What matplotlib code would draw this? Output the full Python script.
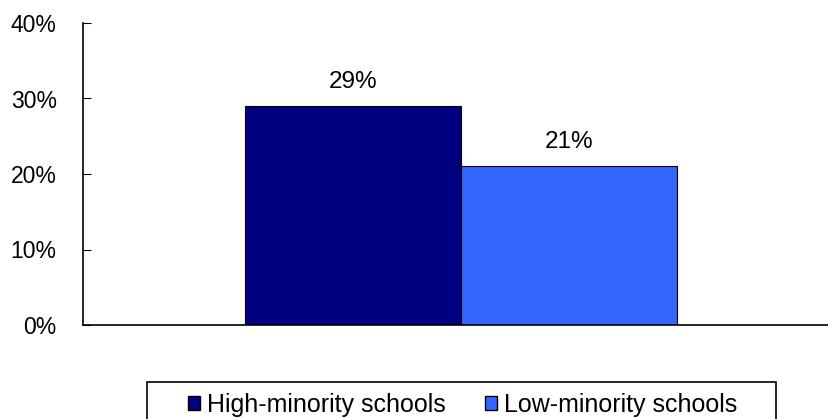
import matplotlib
matplotlib.use('Agg')
import matplotlib.pyplot as plt
from matplotlib.patches import Rectangle
from matplotlib.ticker import PercentFormatter

plt.rcParams['font.family'] = ['Liberation Sans', 'DejaVu Sans']

series = ['High-minority schools', 'Low-minority schools']
values = [29, 21]
colors = ['#000080', '#3366FF']
labels = ['29%', '21%']

fig = plt.figure(figsize=(8.29, 4.19), dpi=100)
ax = fig.add_axes([83 / 829, 94 / 419, 746 / 829, 302 / 419])

w = 216 / 746
offsets = [-w / 2, w / 2]
for s, v, c, lab, off in zip(series, values, colors, labels, offsets):
    ax.bar(off, v, width=w, color=c, edgecolor='black', linewidth=0.8, label=s)
    ax.text(off, v + 2.4, lab, ha='center', va='baseline', fontsize=17.5)

ax.set_xlim(-378 / 746, 368 / 746)
ax.set_ylim(0, 40)
ax.set_yticks([0, 10, 20, 30, 40])
ax.yaxis.set_major_formatter(PercentFormatter(decimals=0))
ax.tick_params(axis='y', direction='in', length=6, labelsize=16.5, pad=19)
ax.set_xticks([])
for sp in ['top', 'right']:
    ax.spines[sp].set_visible(False)
for sp in ['left', 'bottom']:
    ax.spines[sp].set_linewidth(1.2)

# legend frame is wider than the entries, draw it separately
fig.add_artist(Rectangle((147 / 829, -0.1), 629 / 829, 0.1 + 37 / 419,
                         transform=fig.transFigure, fill=False,
                         edgecolor='black', linewidth=1.2))
leg = fig.legend(loc='upper left', bbox_to_anchor=(188 / 829, 1 - 393 / 419), ncol=2, fontsize=18,
                 frameon=False, handlelength=0.48, handleheight=0.48,
                 handletextpad=0.28, columnspacing=1.56, borderpad=0, borderaxespad=0)
for h in leg.legend_handles:
    h.set_edgecolor('black')
    h.set_linewidth(1.0)

fig.savefig('out.png', dpi=100)
